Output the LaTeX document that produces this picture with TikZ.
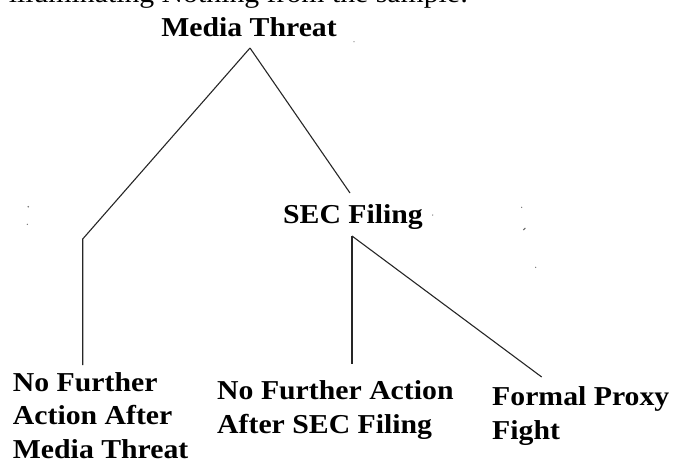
\documentclass[tikz,border=0pt]{standalone}
\usepackage{fontspec}
\setmainfont{Liberation Serif}
\newfontfamily\treefont[FakeStretch=1.09]{Liberation Serif}
\begin{document}
\begin{tikzpicture}[x=1pt,y=-1pt,
  txt/.style={font=\treefont\fontsize{27.3}{34}\selectfont, inner sep=0pt},
  lbl/.style={txt, font=\treefont\fontsize{27.3}{33.6}\selectfont\bfseries, align=left},
  branch/.style={draw=black!85, line width=1.1pt},
  speck/.style={fill=black!55, draw=none}]
\useasboundingbox (0,0) rectangle (673,464);
\clip (0,0) rectangle (673,464);

% last line of the running text above the tree
\node[txt, anchor=base west] (intro) at (8.6,2) {illuminating Nothing from the sample:};

% tree labels (multi-line labels are placed by the baseline of their last line)
\node[lbl, anchor=base] (mt) at (249,36) {Media Threat};
\node[lbl, anchor=base] (sec) at (353,223.3) {SEC Filing};
\node[lbl, anchor=base west] (leafA) at (12.7,458.5) {No Further\\Action After\\Media Threat};
\node[lbl, anchor=base west] (leafB) at (217,433) {No Further Action\\After SEC Filing};
\node[lbl, anchor=base west] (leafC) at (492,439) {Formal Proxy\\Fight};

% branch points
\coordinate (apex) at (250,48);
\coordinate (lbend) at (82.7,239);
\coordinate (lend) at (82.7,365);
\coordinate (secin) at (350,193);
\coordinate (fork) at (352,236);
\coordinate (mend) at (352,364);
\coordinate (rend) at (541.7,377);

% branches
\draw[branch] (apex) -- (lbend) -- (lend);
\draw[branch] (apex) -- (secin);
\draw[branch] (fork) -- (mend);
\draw[branch] (fork) -- (rend);

% small specks on the page
\fill[speck] (354,41.7) circle (0.7);
\fill[speck] (28.3,206.7) circle (0.9);
\fill[speck] (27.3,224.3) circle (0.7);
\fill[speck] (432.7,215) circle (0.7);
\fill[speck] (521.7,207.3) circle (0.7);
\draw[black!60, line width=1pt] (523.3,230) -- (525.3,228);
\fill[speck] (535.7,267.3) circle (0.7);
\end{tikzpicture}
\end{document}
